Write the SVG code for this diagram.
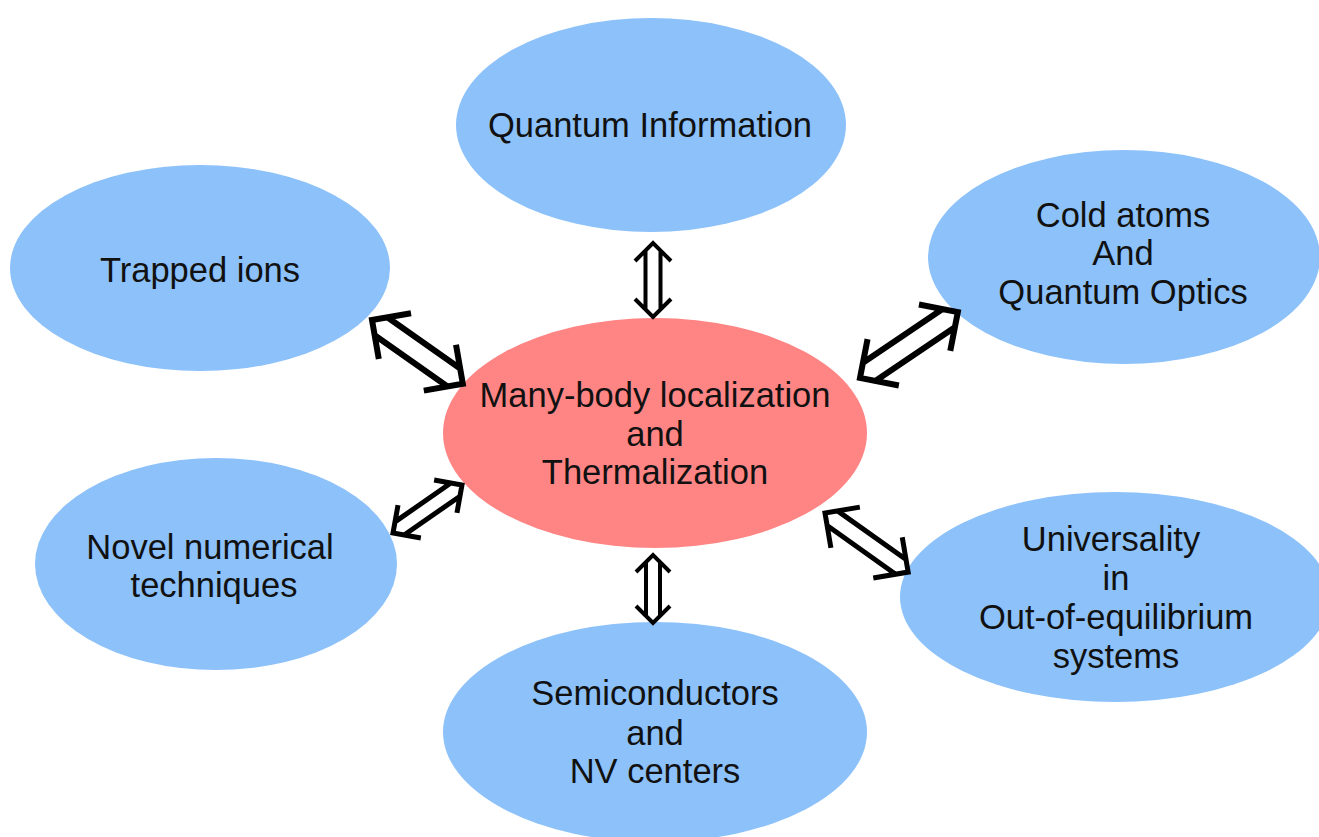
<svg xmlns="http://www.w3.org/2000/svg" width="1319" height="837" viewBox="0 0 1319 837">
<style>
.blue{fill:#8cc1fa}
.red{fill:#ff8585}
text{font-family:"Liberation Sans",Arial,sans-serif;font-size:34.5px;fill:#111;text-anchor:middle}
.arr path{fill:none;stroke:#000;stroke-linejoin:miter;stroke-linecap:butt}
</style>
<rect width="1319" height="837" fill="#fff"/>
<g id="n-quantum-info"><ellipse class="blue" cx="651" cy="125" rx="195" ry="107"/><text x="650" y="137">Quantum Information</text></g>
<g id="n-trapped-ions"><ellipse class="blue" cx="200" cy="268" rx="190" ry="103"/><text x="200" y="282">Trapped ions</text></g>
<g id="n-cold-atoms"><ellipse class="blue" cx="1124" cy="257" rx="196" ry="107"/><text x="1123" y="227">Cold atoms</text><text x="1123" y="265">And</text><text x="1123" y="304">Quantum Optics</text></g>
<g id="n-novel"><ellipse class="blue" cx="216" cy="564" rx="181" ry="106"/><text x="210" y="559">Novel numerical</text><text x="214" y="597">techniques</text></g>
<g id="n-semiconductors"><ellipse class="blue" cx="655" cy="732" rx="212" ry="110"/><text x="655" y="705">Semiconductors</text><text x="655" y="745">and</text><text x="655" y="783">NV centers</text></g>
<g id="n-universality"><ellipse class="blue" cx="1115" cy="597" rx="215" ry="105"/><text x="1111" y="551">Universality</text><text x="1116" y="590">in</text><text x="1116" y="629">Out-of-equilibrium</text><text x="1116" y="668">systems</text></g>
<g id="n-center"><ellipse class="red" cx="655" cy="433" rx="212" ry="115"/><text x="655" y="407">Many-body localization</text><text x="655" y="446">and</text><text x="655" y="484">Thermalization</text></g>
<g id="connectors" class="arr">
<path transform="translate(653,243) rotate(90)" stroke-width="4" d="M18,-18 L0,0 L18,18 M56,-18 L74,0 L56,18 M7.5,-7.5 L66.5,-7.5 M7.5,7.5 L66.5,7.5"/>
<path transform="translate(372,320) rotate(35.1)" stroke-width="6" d="M28,-28 L0,0 L28,28 M83,-28 L111,0 L83,28 M11,-11 L100,-11 M11,11 L100,11"/>
<path transform="translate(860,378) rotate(-34)" stroke-width="6" d="M28,-28 L0,0 L28,28 M90,-28 L118,0 L90,28 M11,-11 L107,-11 M11,11 L107,11"/>
<path transform="translate(393,533) rotate(-34.8)" stroke-width="5" d="M20,-20 L0,0 L20,20 M64,-20 L84,0 L64,20 M8,-8 L76,-8 M8,8 L76,8"/>
<path transform="translate(825,513) rotate(35.4)" stroke-width="5" d="M25,-25 L0,0 L25,25 M77,-25 L102,0 L77,25 M9,-9 L93,-9 M9,9 L93,9"/>
<path transform="translate(653,555) rotate(90)" stroke-width="4" d="M17,-17 L0,0 L17,17 M51,-17 L68,0 L51,17 M7,-7 L61,-7 M7,7 L61,7"/>
</g>
</svg>
